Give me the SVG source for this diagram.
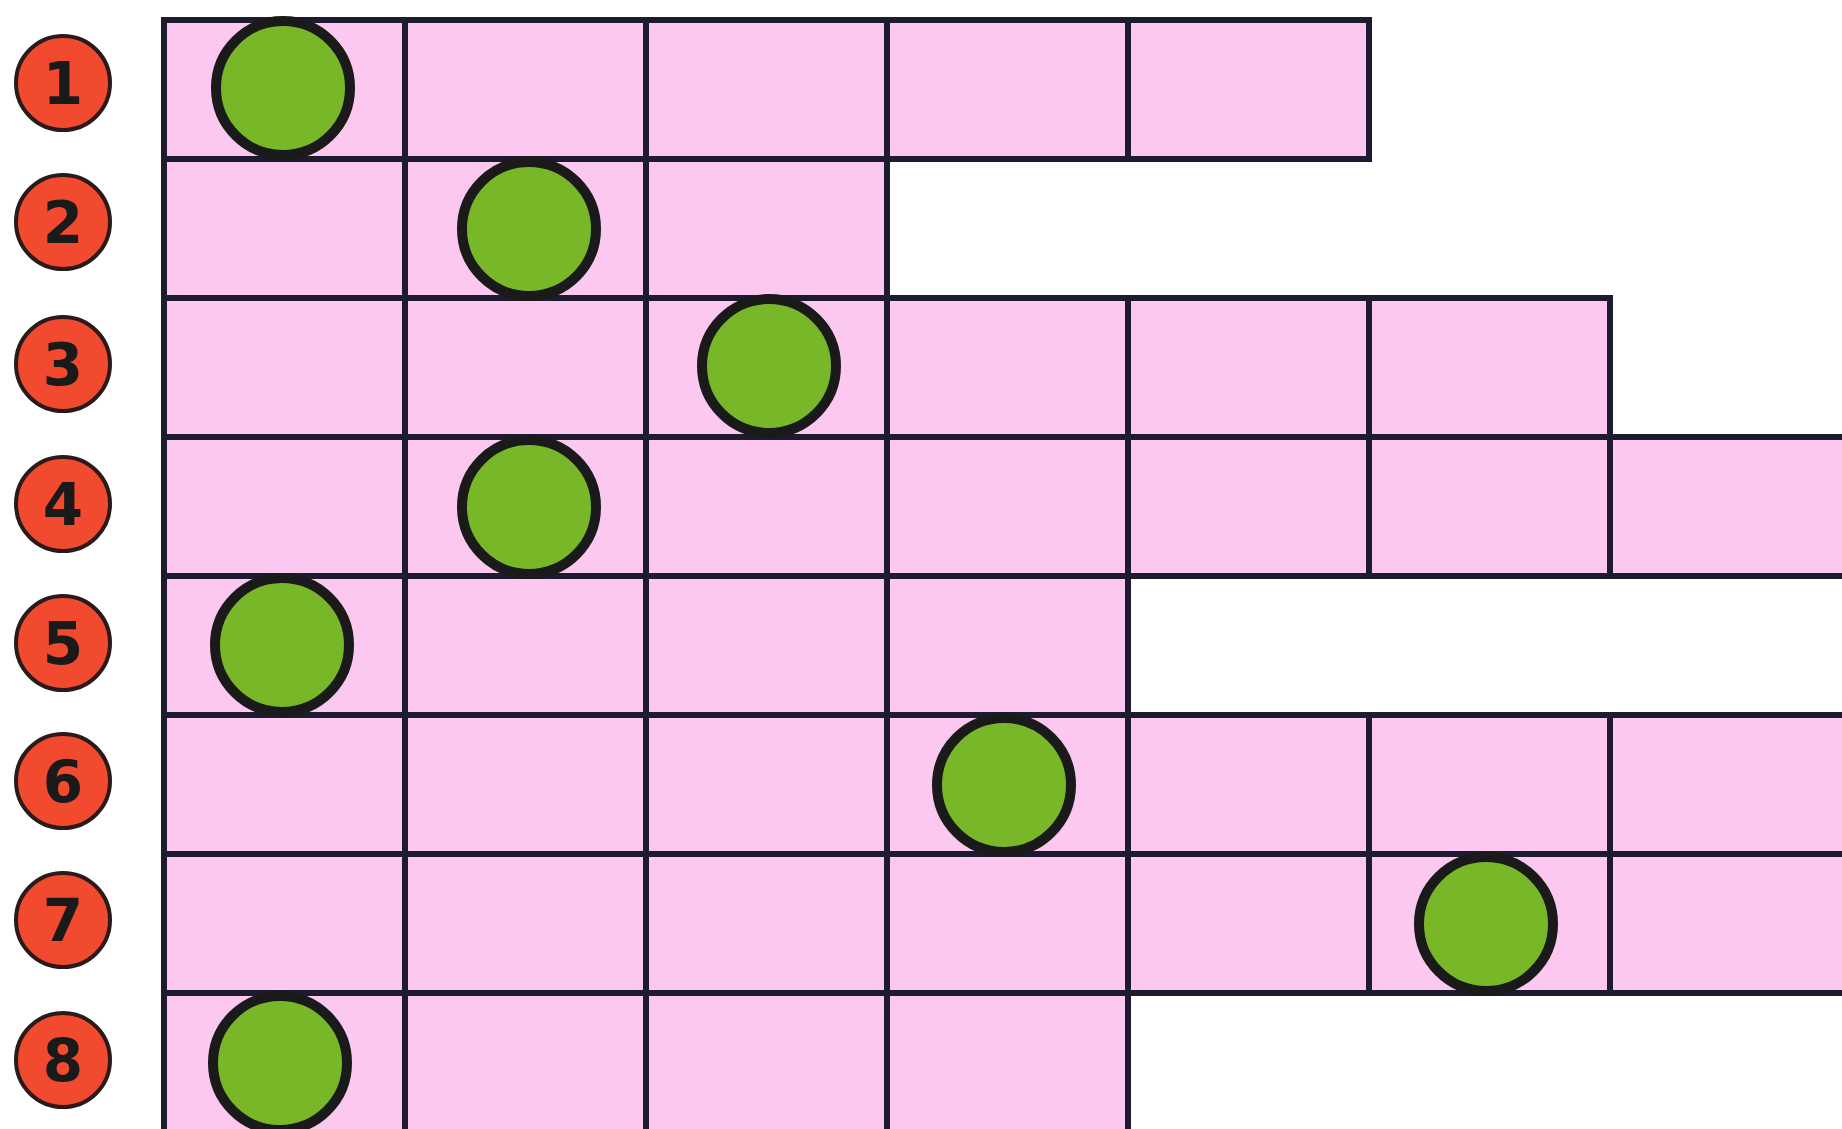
<svg xmlns="http://www.w3.org/2000/svg" width="1842" height="1129" viewBox="0 0 1842 1129">
<style>
.cell{fill:#fcc8f0;stroke:#1e1a30;stroke-width:6}
.dot{fill:#78b828;stroke:#1a1a1a;stroke-width:10}
.badge{fill:#f24a2e;stroke:#2a1a1a;stroke-width:4}
.num{font-family:"DejaVu Sans","Liberation Sans",sans-serif;font-size:58px;font-weight:bold;fill:#1a1a1a;text-anchor:middle}
</style>
<rect width="1842" height="1129" fill="#ffffff"/>
<g id="connectors"></g>
<g id="row1">
<rect class="cell" x="164" y="20" width="241" height="139"/>
<rect class="cell" x="405" y="20" width="241" height="139"/>
<rect class="cell" x="646" y="20" width="241" height="139"/>
<rect class="cell" x="887" y="20" width="241" height="139"/>
<rect class="cell" x="1128" y="20" width="241" height="139"/>
</g>
<g id="row2">
<rect class="cell" x="164" y="159" width="241" height="139"/>
<rect class="cell" x="405" y="159" width="241" height="139"/>
<rect class="cell" x="646" y="159" width="241" height="139"/>
</g>
<g id="row3">
<rect class="cell" x="164" y="298" width="241" height="139"/>
<rect class="cell" x="405" y="298" width="241" height="139"/>
<rect class="cell" x="646" y="298" width="241" height="139"/>
<rect class="cell" x="887" y="298" width="241" height="139"/>
<rect class="cell" x="1128" y="298" width="241" height="139"/>
<rect class="cell" x="1369" y="298" width="241" height="139"/>
</g>
<g id="row4">
<rect class="cell" x="164" y="437" width="241" height="139"/>
<rect class="cell" x="405" y="437" width="241" height="139"/>
<rect class="cell" x="646" y="437" width="241" height="139"/>
<rect class="cell" x="887" y="437" width="241" height="139"/>
<rect class="cell" x="1128" y="437" width="241" height="139"/>
<rect class="cell" x="1369" y="437" width="241" height="139"/>
<rect class="cell" x="1610" y="437" width="241" height="139"/>
</g>
<g id="row5">
<rect class="cell" x="164" y="576" width="241" height="139"/>
<rect class="cell" x="405" y="576" width="241" height="139"/>
<rect class="cell" x="646" y="576" width="241" height="139"/>
<rect class="cell" x="887" y="576" width="241" height="139"/>
</g>
<g id="row6">
<rect class="cell" x="164" y="715" width="241" height="139"/>
<rect class="cell" x="405" y="715" width="241" height="139"/>
<rect class="cell" x="646" y="715" width="241" height="139"/>
<rect class="cell" x="887" y="715" width="241" height="139"/>
<rect class="cell" x="1128" y="715" width="241" height="139"/>
<rect class="cell" x="1369" y="715" width="241" height="139"/>
<rect class="cell" x="1610" y="715" width="241" height="139"/>
</g>
<g id="row7">
<rect class="cell" x="164" y="854" width="241" height="139"/>
<rect class="cell" x="405" y="854" width="241" height="139"/>
<rect class="cell" x="646" y="854" width="241" height="139"/>
<rect class="cell" x="887" y="854" width="241" height="139"/>
<rect class="cell" x="1128" y="854" width="241" height="139"/>
<rect class="cell" x="1369" y="854" width="241" height="139"/>
<rect class="cell" x="1610" y="854" width="241" height="139"/>
</g>
<g id="row8">
<rect class="cell" x="164" y="993" width="241" height="139"/>
<rect class="cell" x="405" y="993" width="241" height="139"/>
<rect class="cell" x="646" y="993" width="241" height="139"/>
<rect class="cell" x="887" y="993" width="241" height="139"/>
</g>
<g id="dots">
<circle class="dot" cx="283" cy="88" r="67"/>
<circle class="dot" cx="529" cy="229" r="67"/>
<circle class="dot" cx="769" cy="366" r="67"/>
<circle class="dot" cx="529" cy="507" r="67"/>
<circle class="dot" cx="282" cy="645" r="67"/>
<circle class="dot" cx="1004" cy="785" r="67"/>
<circle class="dot" cx="1486" cy="924" r="67"/>
<circle class="dot" cx="280" cy="1063" r="67"/>
</g>
<g id="label1"><circle class="badge" cx="63" cy="83" r="47"/><text class="num" x="63" y="104">1</text></g>
<g id="label2"><circle class="badge" cx="63" cy="222" r="47"/><text class="num" x="63" y="243">2</text></g>
<g id="label3"><circle class="badge" cx="63" cy="364" r="47"/><text class="num" x="63" y="385">3</text></g>
<g id="label4"><circle class="badge" cx="63" cy="504" r="47"/><text class="num" x="63" y="525">4</text></g>
<g id="label5"><circle class="badge" cx="63" cy="643" r="47"/><text class="num" x="63" y="664">5</text></g>
<g id="label6"><circle class="badge" cx="63" cy="781" r="47"/><text class="num" x="63" y="802">6</text></g>
<g id="label7"><circle class="badge" cx="63" cy="920" r="47"/><text class="num" x="63" y="941">7</text></g>
<g id="label8"><circle class="badge" cx="63" cy="1060" r="47"/><text class="num" x="63" y="1081">8</text></g>
</svg>
